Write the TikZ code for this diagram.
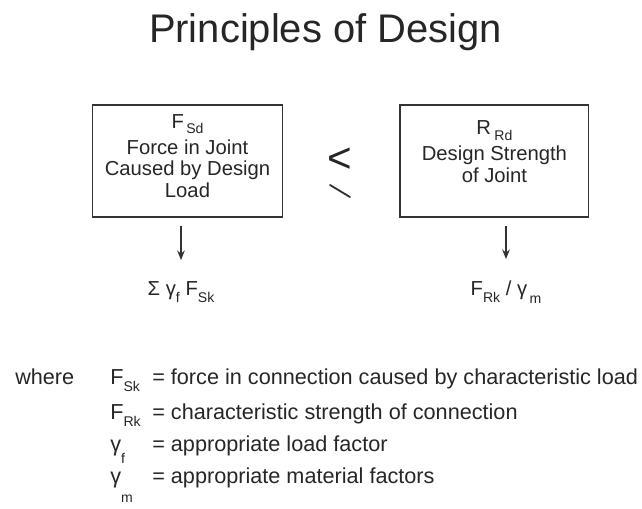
\documentclass[tikz,border=0pt]{standalone}
\usepackage{fontspec}
\setmainfont{Liberation Sans}
\usetikzlibrary{arrows.meta, positioning}
\newcommand{\lsub}[2][3pt]{\raisebox{-#1}{\fontsize{10}{10}\selectfont #2}}

\begin{document}
\begin{tikzpicture}[
    x=0.025cm, y=-0.025cm,
    node distance=2.9cm,
    box/.style={rectangle, draw=black!80, line width=1.3pt, minimum width=4.75cm, minimum height=2.8cm},
    boxtext/.style={align=center, inner sep=0pt, font=\fontsize{14.4}{15.5}\selectfont, text=black!85},
    formula/.style={inner sep=0pt, font=\fontsize{14.4}{15}\selectfont, text=black!85},
    legend/.style={anchor=base west, inner sep=0pt, font=\fontsize{15.4}{16}\selectfont, text=black!85},
    arrow/.style={-{Stealth[length=2.4mm, width=1.9mm]}, line width=0.9pt, draw=black!80}
]
    \useasboundingbox (0,0) rectangle (642,508);

    % Title
    \node[anchor=base, text=black!85, font=\fontsize{28.4}{30}\selectfont] (title) at (325.5,42) {Principles of Design};

    % Boxes
    \node[box] (lbox) at (187.5,161) {};
    \node[boxtext, yshift=3.5pt] (ltext) at (lbox) {F\lsub[4pt]{\,Sd}\\[3pt] Force in Joint\\ Caused by Design\\ Load};
    \node[box, minimum width=4.7cm, right=2.9cm of lbox] (rbox) {};
    \node[boxtext, yshift=6.4pt] (rtext) at (rbox) {R\,\lsub[4pt]{Rd}\\[3pt] Design Strength\\ of Joint};

    % Relation sign
    \node[inner sep=0pt, text=black!85, font=\fontsize{30}{30}\selectfont] (lt) at (340,160) {<};
    \draw[line width=1.3pt, line cap=round, draw=black!80] (lt.center) ++(-10,25) -- ++(20,12);

    % Results
    \node[formula] (lres) at (181,292) {Σ γ\lsub[5pt]{f} F\lsub[5pt]{Sk}};
    \node[formula] (rres) at (506,292) {F\lsub[5pt]{Rk} / γ\lsub[6pt]{\,m}};

    % Arrows
    \draw[arrow, shorten <=5.7pt, shorten >=15pt] (lbox.south -| lres) -- (lres.north);
    \draw[arrow, shorten <=5.7pt, shorten >=15pt] (rbox.south -| rres) -- (rres.north);

    % Legend
    \node[legend] (where) at (15,384) {where};
    \node[legend] (fsk) at (110,384) {F\lsub[5pt]{Sk}};
    \node[legend] (fskdef) at (152,384) {= force in connection caused by characteristic load};
    \node[legend] (frk) at (110,419) {F\lsub[5pt]{Rk}};
    \node[legend] (frkdef) at (152,419) {= characteristic strength of connection};
    \node[legend] (gf) at (110,451) {γ\lsub[9pt]{f}};
    \node[legend] (gfdef) at (152,451) {= appropriate load factor};
    \node[legend] (gm) at (110,483) {γ\lsub[14pt]{m}};
    \node[legend] (gmdef) at (152,483) {= appropriate material factors};

\end{tikzpicture}
\end{document}
